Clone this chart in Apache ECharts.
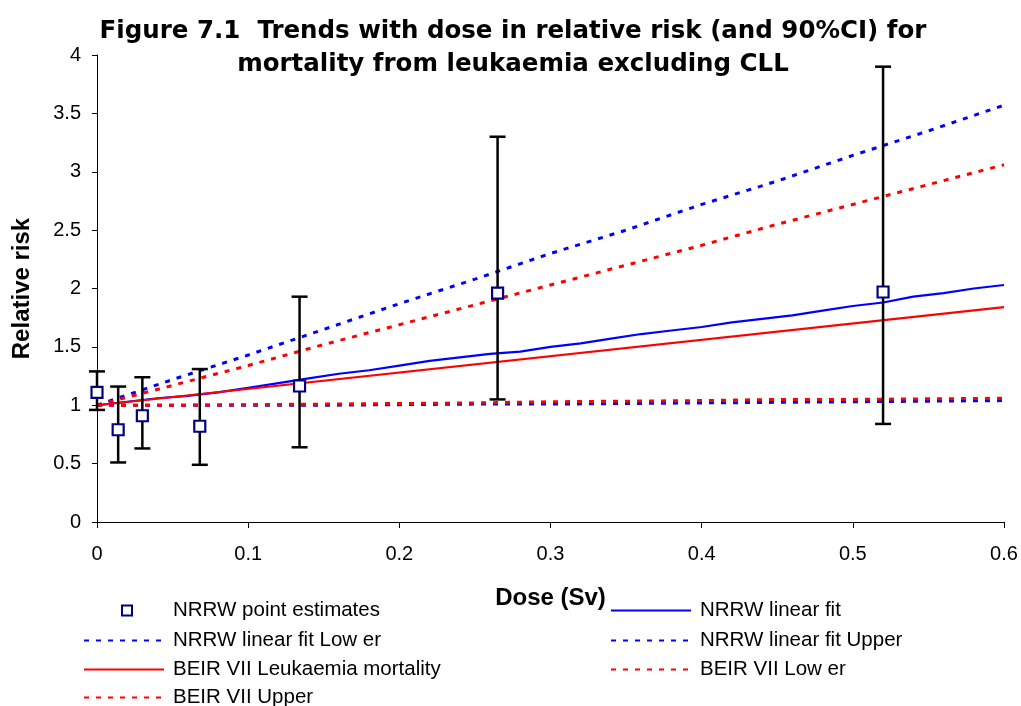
<!DOCTYPE html>
<html><head><meta charset="utf-8">
<script src="https://cdn.jsdelivr.net/npm/echarts@6/dist/echarts.min.js"></script>
<style>html,body{margin:0;padding:0;background:#fff}#c{width:1021px;height:706px}</style>
</head><body><div id="c"></div>
<script>
// NRRW point estimates with 90% CI
const pointDose = [0, 0.014, 0.030, 0.068, 0.134, 0.265, 0.52];
const pointRR   = [1.11, 0.79, 0.91, 0.82, 1.165, 1.96, 1.97];
const pointLow  = [0.96, 0.51, 0.63, 0.49, 0.64, 1.05, 0.84];
const pointHigh = [1.29, 1.16, 1.24, 1.31, 1.93, 3.30, 3.90];

// NRRW linear fit
const fitDose = [0,0.02,0.04,0.06,0.08,0.1,0.12,0.14,0.16,0.18,0.2,0.22,0.24,0.26,0.28,0.3,0.32,0.34,0.36,0.38,0.4,0.42,0.44,0.46,0.48,0.5,0.52,0.54,0.56,0.58,0.6];
const fitRR   = [1.00,1.03,1.06,1.08,1.11,1.15,1.19,1.23,1.27,1.30,1.34,1.38,1.41,1.44,1.46,1.50,1.53,1.57,1.61,1.64,1.67,1.71,1.74,1.77,1.81,1.85,1.88,1.93,1.96,2.00,2.03];

// CI bounds dose grid
const ciDose    = [0,0.05,0.1,0.15,0.2,0.25,0.3,0.35,0.4,0.45,0.5,0.55,0.6];
const nrrwUpper = [1.0,1.22,1.43,1.65,1.87,2.08,2.30,2.50,2.72,2.92,3.14,3.35,3.57];
const nrrwLower = [1.0,1.0,1.0,1.0,1.005,1.01,1.01,1.015,1.02,1.025,1.03,1.035,1.04];
const beirUpper = [1.0,1.17,1.34,1.52,1.69,1.86,2.03,2.20,2.37,2.55,2.72,2.89,3.06];
const beirLower = [1.0,1.0,1.005,1.01,1.015,1.02,1.03,1.035,1.04,1.05,1.05,1.055,1.06];

// BEIR VII central estimate
const beirDose = [0, 0.6];
const beirRR   = [1.0, 1.84];

const xTicks = [0, 0.1, 0.2, 0.3, 0.4, 0.5, 0.6];
const yTicks = [0, 0.5, 1, 1.5, 2, 2.5, 3, 3.5, 4];

const names = ['NRRW point estimates','NRRW linear fit','NRRW linear fit Lower','NRRW linear fit Upper','BEIR VII Leukaemia mortality','BEIR VII Lower','BEIR VII Upper'];
const legendText = {
  'NRRW point estimates':'NRRW point estimates',
  'NRRW linear fit':'NRRW linear fit',
  'NRRW linear fit Lower':'NRRW linear fit Low er',
  'NRRW linear fit Upper':'NRRW linear fit Upper',
  'BEIR VII Leukaemia mortality':'BEIR VII Leukaemia mortality',
  'BEIR VII Lower':'BEIR VII Low er',
  'BEIR VII Upper':'BEIR VII Upper'
};

const zip = (xs, ys) => xs.map((x, i) => [x, ys[i]]);
const FONT = '"Liberation Sans", Arial, sans-serif';
const TFONT = '"DejaVu Sans", "Liberation Sans", sans-serif';
const BLUE = '#0000FF', RED = '#FF0000', NAVY = '#000080';
const dash = [5, 7];

const legendPos = [
  [83, 600], [610, 600],
  [83, 630], [610, 630],
  [83, 659], [610, 659],
  [83, 687]
];

const legends = names.map((n, i) => {
  const isPt = i === 0;
  return {
    data: [n],
    left: isPt ? 121 : legendPos[i][0], top: legendPos[i][1],
    itemWidth: isPt ? 10 : 80, itemHeight: 10,
    selectedMode: false,
    padding: 0,
    formatter: nm => legendText[nm],
    itemStyle: isPt ? {} : { color: 'rgba(0,0,0,0)', borderWidth: 0, opacity: 0 },
    textStyle: { fontFamily: FONT, fontSize: 20.5, color: '#000', lineHeight: 20,
      padding: [0, 0, 0, isPt ? 36 : 4] }
  };
});

const chart = echarts.init(document.getElementById('c'));
chart.setOption({
  animation: false,
  backgroundColor: '#fff',
  title: {
    text: 'Figure 7.1  Trends with dose in relative risk (and 90%CI) for\nmortality from leukaemia excluding CLL',
    left: 508, top: 10, textAlign: 'center',
    textStyle: { fontFamily: TFONT, fontWeight: 'bold', fontSize: 24.5, lineHeight: 33, color: '#000' }
  },
  legend: legends,
  grid: { left: 97, right: 17, top: 55, bottom: 184, containLabel: false },
  xAxis: {
    type: 'value', min: 0, max: 0.6, interval: 0.1,
    name: 'Dose (Sv)', nameLocation: 'middle', nameGap: 64,
    nameTextStyle: { fontFamily: FONT, fontWeight: 'bold', fontSize: 24, color: '#000' },
    axisLine: { show: true, lineStyle: { color: '#000', width: 1 } },
    axisTick: { show: true, length: 6, lineStyle: { color: '#000' } },
    axisLabel: { fontFamily: FONT, fontSize: 20, color: '#000', margin: 22,
      formatter: v => { const t = xTicks.find(tt => Math.abs(tt - v) < 1e-9); return String(t !== undefined ? t : v); } },
    splitLine: { show: false }
  },
  yAxis: {
    type: 'value', min: 0, max: 4, interval: 0.5,
    name: 'Relative risk', nameLocation: 'middle', nameGap: 63,
    nameTextStyle: { fontFamily: FONT, fontWeight: 'bold', fontSize: 24, color: '#000' },
    axisLine: { show: true, lineStyle: { color: '#000', width: 1 } },
    axisTick: { show: true, length: 5, lineStyle: { color: '#000' } },
    axisLabel: { fontFamily: FONT, fontSize: 20, color: '#000', margin: 16,
      formatter: v => { const t = yTicks.find(tt => Math.abs(tt - v) < 1e-9); return String(t !== undefined ? t : v); } },
    splitLine: { show: false }
  },
  series: [
    { name: 'NRRW linear fit', type: 'line', data: zip(fitDose, fitRR), showSymbol: false, symbol: 'none', z: 3,
      lineStyle: { color: BLUE, width: 2.2 }, itemStyle: { color: BLUE } },
    { name: 'NRRW linear fit Lower', type: 'line', data: zip(ciDose, nrrwLower), showSymbol: false, symbol: 'none', z: 2,
      lineStyle: { color: BLUE, width: 3, type: dash }, itemStyle: { color: BLUE } },
    { name: 'NRRW linear fit Upper', type: 'line', data: zip(ciDose, nrrwUpper), showSymbol: false, symbol: 'none', z: 2,
      lineStyle: { color: BLUE, width: 3, type: dash }, itemStyle: { color: BLUE } },
    { name: 'BEIR VII Leukaemia mortality', type: 'line', data: zip(beirDose, beirRR), showSymbol: false, symbol: 'none', z: 3,
      lineStyle: { color: RED, width: 2.2 }, itemStyle: { color: RED } },
    { name: 'BEIR VII Lower', type: 'line', data: zip(ciDose, beirLower), showSymbol: false, symbol: 'none', z: 2,
      lineStyle: { color: RED, width: 3, type: dash }, itemStyle: { color: RED } },
    { name: 'BEIR VII Upper', type: 'line', data: zip(ciDose, beirUpper), showSymbol: false, symbol: 'none', z: 2,
      lineStyle: { color: RED, width: 3, type: dash }, itemStyle: { color: RED } },
    { name: 'CI', type: 'custom', z: 4,
      data: pointDose.map((d, i) => [d, pointLow[i], pointHigh[i]]),
      renderItem: (params, api) => {
        const lo = api.coord([api.value(0), api.value(1)]);
        const hi = api.coord([api.value(0), api.value(2)]);
        const hw = 8;
        const st = { stroke: '#000', lineWidth: 2.5 };
        return { type: 'group', children: [
          { type: 'line', shape: { x1: lo[0], y1: lo[1], x2: hi[0], y2: hi[1] }, style: st },
          { type: 'line', shape: { x1: lo[0]-hw, y1: lo[1], x2: lo[0]+hw, y2: lo[1] }, style: st },
          { type: 'line', shape: { x1: hi[0]-hw, y1: hi[1], x2: hi[0]+hw, y2: hi[1] }, style: st }
        ]};
      }
    },
    { name: 'NRRW point estimates', type: 'scatter', data: zip(pointDose, pointRR), z: 5,
      symbol: 'rect', symbolSize: 11,
      itemStyle: { color: '#fff', borderColor: NAVY, borderWidth: 2.2, opacity: 1 } }
  ]
});
</script></body></html>
